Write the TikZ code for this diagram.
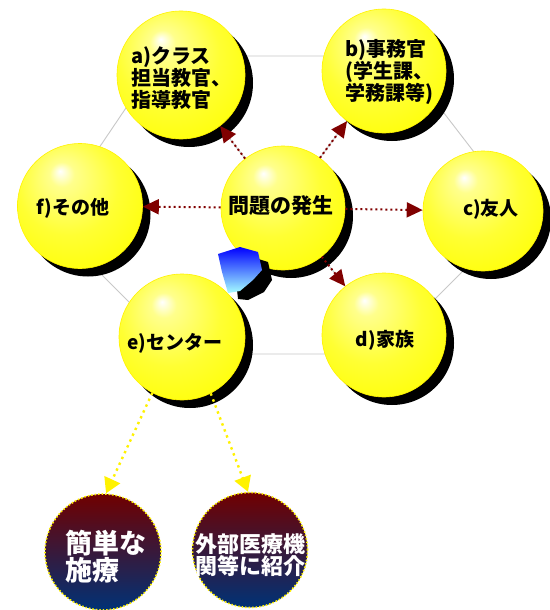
\documentclass[tikz,border=0pt]{standalone}
\usepackage{fontspec}
\newfontfamily\jp{Noto Sans CJK JP}
\usetikzlibrary{shadows,arrows.meta,backgrounds}
\definecolor{dred}{RGB}{128,0,0}
\definecolor{ltop}{RGB}{112,0,0}
\definecolor{lbot}{RGB}{0,50,118}
\definecolor{hexgray}{RGB}{200,200,200}
\pgfdeclareradialshading{yball}{\pgfpoint{-8bp}{14bp}}{color(0bp)=(white); color(5bp)=(white!55!yellow); color(20bp)=(yellow!80!white); color(36bp)=(yellow); color(50bp)=(yellow)}
\begin{document}
\begin{tikzpicture}[x=1pt,y=-1pt,
  ball/.style={circle, minimum size=#1, inner sep=0pt, shading=yball, draw=yellow, line width=0.6pt,
    drop shadow={shadow xshift=8pt, shadow yshift=-8pt, fill=black, opacity=1}},
  lowball/.style={circle, minimum size=#1, inner sep=0pt, top color=ltop, bottom color=lbot,
    draw=yellow, line width=1.6pt, dash pattern=on 1.5pt off 2pt},
  txt/.style={font=\jp\bfseries\fontsize{19}{22}\selectfont, align=left, inner sep=0pt, text=black},
  wtxt/.style={font=\jp\bfseries\fontsize{#1}{#1}\selectfont, align=left, inner sep=0pt, text=white},
  hexl/.style={draw=hexgray, line width=0.9pt},
  reda/.style={draw=dred, line width=2pt, dash pattern=on 2pt off 3pt,
    -{Triangle[length=16pt,width=15pt,fill=dred]}},
  yela/.style={draw=yellow, line width=2.4pt, dash pattern=on 2.4pt off 4pt,
    -{Triangle[length=15pt,width=17pt,fill=yellow]}}]
\useasboundingbox (0,0) rectangle (549,610);
\fill[white] (0,0) rectangle (549,610);

% hexagon frame
\coordinate (ha) at (161,56);
\coordinate (hb) at (400,56);
\coordinate (hc) at (521,213);
\coordinate (hd) at (380,354);
\coordinate (he) at (181,354);
\coordinate (hf) at (49,222);
\draw[hexl] (ha) -- (hb) -- (hc) -- (hd) -- (he) -- (hf) -- cycle;

% spokes
\coordinate (sm) at (283,208);
\draw[hexl] (sm) -- (181,75);
\draw[hexl] (sm) -- (384,71);
\draw[hexl] (sm) -- (384,335);

% circles
\node[ball=128pt] (a) at (181,75) {};
\node[ball=124pt] (b) at (384,71) {};
\node[ball=120pt] (c) at (483,211) {};
\node[ball=124pt] (d) at (384,335) {};
\node[ball=126pt] (e) at (182,337) {};
\node[ball=125pt] (f) at (80,206) {};
\node[ball=124pt] (m) at (283,208) {};

% blue pointer
\fill[black] (234,262) -- (252,257) -- (268,262) -- (272,280) -- (264,292) -- (248,300) -- (238,299) -- cycle;
\shade[top color=blue, bottom color=cyan!35!white] (218,254) -- (240,247) -- (258,252) -- (262,270) -- (253,280) -- (240,291) -- (228,293) -- (222,272) -- cycle;

% texts
\node[txt, font=\jp\bfseries\fontsize{20}{22}\selectfont] (at) at (181,78) {a)クラス\\担当教官、\\指導教官};
\node[txt, font=\jp\bfseries\fontsize{20}{22}\selectfont] (bt) at (389,72) {b)事務官\\(学生課、\\学務課等)};
\node[txt] (ct) at (491,209) {c)友人};
\node[txt] (dt) at (385,340) {d)家族};
\node[txt] (et) at (175,343) {e)センター};
\node[txt] (ft) at (73,208) {f)その他};
\node[txt, font=\jp\bfseries\fontsize{21}{24}\selectfont] (mt) at (281,206) {問題の発生};

% red arrows
\draw[reda] (m) -- (a);
\draw[reda] (m) -- (b);
\draw[reda] (m) -- (c);
\draw[reda] (m) -- (d);
\draw[reda] (m) -- (f);

% lower circles
\node[lowball=116pt] (s1) at (103,552) {};
\node[lowball=115pt] (s2) at (250,550) {};
\node[wtxt=27] (s1t) at (106,557) {簡単な\\施療};
\node[wtxt=22] (s2t) at (250,555) {外部医療機\\関等に紹介};

% yellow arrows
\draw[yela] (e.242) -- (s1.87);
\draw[yela] (e.297) -- (s2.92);
\end{tikzpicture}
\end{document}
